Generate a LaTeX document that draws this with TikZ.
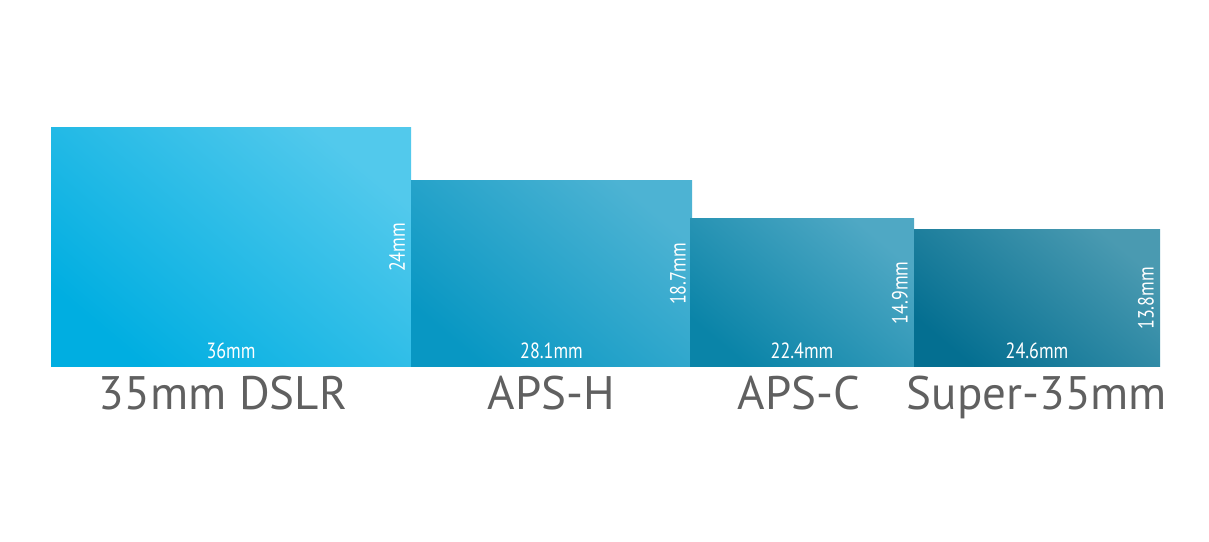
\documentclass[tikz,border=0pt]{standalone}
\usepackage{fontspec}
\setmainfont{PT Sans}
\newfontfamily\narrowfont{PT Sans}[FakeStretch=0.82]
\usepackage{tikz}
\usetikzlibrary{positioning}
\definecolor{ffdark}{HTML}{00AEE1}
\definecolor{fflight}{HTML}{52C9EC}
\definecolor{aphdark}{HTML}{0897C3}
\definecolor{aphlight}{HTML}{4DB3D3}
\definecolor{apcdark}{HTML}{0A84A8}
\definecolor{apclight}{HTML}{4FA8C4}
\definecolor{sdark}{HTML}{046F91}
\definecolor{slight}{HTML}{4A9AB1}
\definecolor{labelgray}{HTML}{606060}
\tikzstyle{sensor} = [rectangle, anchor=south west, inner sep=0pt, outer sep=0pt]
\tikzset{sensorshade/.style 2 args={bottom color=#1, middle color=#1!95!#2, top color=#2, shading angle=-40}}
\tikzstyle{dimlabel} = [text=white, inner sep=0pt, font=\narrowfont\fontsize{22}{24}\selectfont]
\tikzstyle{namelabel} = [text=labelgray, inner sep=0pt, anchor=base, font=\fontsize{47}{50}\selectfont]

\begin{document}
\begin{tikzpicture}[x=1pt, y=1pt]
        \useasboundingbox (0,0) rectangle (1209,541);

        \node (ff) [sensor, minimum width=360pt, minimum height=239pt, sensorshade={ffdark}{fflight}] at (51,174) {};
        \node (aph) [sensor, minimum width=281pt, minimum height=186pt, sensorshade={aphdark}{aphlight}] at (ff.south east) {};
        \node (apc) [sensor, minimum width=224pt, minimum height=148pt, sensorshade={apcdark}{apclight}] at ([xshift=-2pt]aph.south east) {};
        \node (sup) [sensor, minimum width=246pt, minimum height=137pt, sensorshade={sdark}{slight}] at (apc.south east) {};

        \node (ffw) [dimlabel, above=8pt of ff.south] {36mm};
        \node (aphw) [dimlabel, above=8pt of aph.south] {28.1mm};
        \node (apcw) [dimlabel, above=8pt of apc.south] {22.4mm};
        \node (supw) [dimlabel, above=8pt of sup.south] {24.6mm};

        \node (ffh) [dimlabel, rotate=90, anchor=south] at ([xshift=-6pt]ff.east) {24mm};
        \node (aphh) [dimlabel, rotate=90, anchor=south] at ([xshift=-6pt]aph.east) {18.7mm};
        \node (apch) [dimlabel, rotate=90, anchor=south] at ([xshift=-6pt]apc.east) {14.9mm};
        \node (suph) [dimlabel, rotate=90, anchor=south] at ([xshift=-6pt]sup.east) {13.8mm};

        \node (ffname) [namelabel] at ([xshift=-8pt, yshift=-42pt]ff.south) {35mm DSLR};
        \node (aphname) [namelabel] at ([yshift=-42pt]aph.south) {APS-H};
        \node (apcname) [namelabel] at ([xshift=-3pt, yshift=-42pt]apc.south) {APS-C};
        \node (supname) [namelabel] at ([yshift=-42pt]sup.south) {Super-35mm};
    \end{tikzpicture}
\end{document}
